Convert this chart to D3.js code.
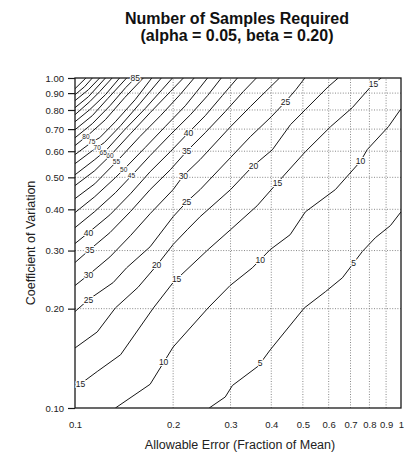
<!DOCTYPE html>
<html>
<head>
  <meta charset="utf-8">
  <title>Number of Samples Required</title>
  <script src="https://d3js.org/d3.v7.min.js"></script>
  <style>
    body { margin: 0; background: #fff; }
    text { font-family: "Liberation Sans", Arial, sans-serif; }
  </style>
</head>
<body>

  <svg width="404" height="452" id="chart"></svg>

  <script>

    // tick values on both log axes
    var xTicks = [0.1, 0.2, 0.3, 0.4, 0.5, 0.6, 0.7, 0.8, 0.9, 1];
    var yTicks = [0.1, 0.2, 0.3, 0.4, 0.5, 0.6, 0.7, 0.8, 0.9, 1.0];

    // contour lines, [allowable error, coefficient of variation]
    var n5 = [[0.258,0.100],[0.289,0.108],[0.304,0.117],[0.365,0.134],[0.397,0.150],[0.505,0.201],[0.586,0.225],[0.661,0.248],[0.761,0.298],[0.834,0.328],[0.928,0.357],[1.0,0.393]];
    var n10 = [[0.133,0.100],[0.170,0.118],[0.200,0.153],[0.256,0.201],[0.299,0.235],[0.350,0.266],[0.397,0.302],[0.457,0.335],[0.509,0.393],[0.629,0.459],[0.750,0.558],[0.788,0.607],[0.915,0.712],[1.0,0.807]];
    var n15 = [[0.100,0.115],[0.117,0.129],[0.138,0.145],[0.174,0.201],[0.200,0.240],[0.256,0.302],[0.300,0.347],[0.362,0.410],[0.418,0.482],[0.509,0.598],[0.608,0.712],[0.709,0.813],[0.823,0.961],[0.870,1.0]];
    var n20 = [[0.100,0.152],[0.117,0.170],[0.133,0.201],[0.156,0.232],[0.179,0.272],[0.200,0.313],[0.221,0.347],[0.242,0.380],[0.300,0.459],[0.350,0.539],[0.403,0.606],[0.458,0.722],[0.509,0.802],[0.598,0.941],[0.642,1.0]];
    var n25 = [[0.100,0.196],[0.110,0.213],[0.131,0.240],[0.144,0.266],[0.170,0.308],[0.200,0.380],[0.221,0.423],[0.242,0.459],[0.300,0.574],[0.345,0.664],[0.400,0.763],[0.442,0.847],[0.476,0.922],[0.507,1.0]];
    var n30 = [[0.100,0.235],[0.111,0.255],[0.128,0.287],[0.148,0.333],[0.170,0.388],[0.200,0.459],[0.215,0.506],[0.242,0.566],[0.300,0.712],[0.345,0.819],[0.384,0.909],[0.424,1.0]];
    var n35 = [[0.100,0.276],[0.111,0.302],[0.128,0.340],[0.148,0.394],[0.170,0.459],[0.196,0.527],[0.221,0.602],[0.251,0.683],[0.289,0.791],[0.328,0.909],[0.360,1.0]];
    var n40 = [[0.100,0.315],[0.110,0.340],[0.128,0.385],[0.148,0.446],[0.170,0.520],[0.196,0.598],[0.223,0.683],[0.251,0.769],[0.283,0.884],[0.315,1.0]];
    var n45 = [[0.100,0.352],[0.115,0.394],[0.133,0.449],[0.148,0.502],[0.170,0.582],[0.196,0.673],[0.226,0.774],[0.255,0.884],[0.281,1.0]];
    var n50 = [[0.100,0.391],[0.115,0.437],[0.133,0.499],[0.144,0.539],[0.164,0.615],[0.189,0.712],[0.218,0.824],[0.235,0.903],[0.255,1.0]];
    var n55 = [[0.100,0.431],[0.115,0.478],[0.136,0.566],[0.158,0.664],[0.183,0.769],[0.210,0.890],[0.232,1.0]];
    var n60 = [[0.100,0.472],[0.115,0.524],[0.130,0.590],[0.148,0.678],[0.170,0.785],[0.196,0.909],[0.215,1.0]];
    var n65 = [[0.100,0.509],[0.115,0.566],[0.125,0.606],[0.142,0.697],[0.164,0.807],[0.185,0.922],[0.199,1.0]];
    var n70 = [[0.100,0.550],[0.113,0.602],[0.123,0.637],[0.138,0.717],[0.158,0.836],[0.184,1.0]];
    var n75 = [[0.100,0.586],[0.113,0.641],[0.119,0.659],[0.133,0.737],[0.153,0.860],[0.172,1.0]];
    var n80 = [[0.100,0.624],[0.111,0.678],[0.124,0.748],[0.142,0.872],[0.162,1.0]];
    var n85 = [[0.100,0.659],[0.113,0.727],[0.128,0.824],[0.143,0.935],[0.153,1.0]];
    var n90 = [[0.100,0.697],[0.113,0.769],[0.126,0.866],[0.144,1.0]];
    var n95 = [[0.100,0.737],[0.111,0.802],[0.124,0.890],[0.137,1.0]];
    var n100 = [[0.100,0.774],[0.111,0.848],[0.119,0.909],[0.130,1.0]];
    var n105 = [[0.100,0.813],[0.110,0.878],[0.124,1.0]];
    var n110 = [[0.100,0.854],[0.110,0.922],[0.119,1.0]];
    var n115 = [[0.100,0.890],[0.107,0.941],[0.113,1.0]];
    var n120 = [[0.100,0.928],[0.108,1.0]];

    var levels = [5, 10, 15, 20, 25, 30, 35, 40, 45, 50, 55, 60, 65, 70, 75, 80, 85, 90, 95, 100, 105, 110, 115, 120];
    var contours = [n5, n10, n15, n20, n25, n30, n35, n40, n45, n50, n55, n60, n65, n70, n75, n80, n85, n90, n95, n100, n105, n110, n115, n120];

    // where the numbers sit: which contour, and at what allowable error
    var labelLevel = [5, 5, 10, 10, 10, 15, 15, 15, 15, 20, 20, 25, 25, 25, 30, 30, 35, 35, 40, 40, 45, 50, 55, 60, 65, 70, 75, 80, 85];
    var labelE = [0.370, 0.715, 0.187, 0.370, 0.751, 0.104, 0.205, 0.418, 0.823, 0.178, 0.353, 0.110, 0.220, 0.442, 0.110, 0.215, 0.111, 0.220, 0.110, 0.223, 0.149, 0.141, 0.134, 0.128, 0.122, 0.117, 0.1125, 0.108, 0.153];

    var svg = d3.select("#chart");

    var x = d3.scaleLog().domain([0.1, 1]).range([75, 401]);
    var y = d3.scaleLog().domain([0.1, 1]).range([408, 78]);

    svg.append("defs").append("clipPath").attr("id", "plot")
      .append("rect")
        .attr("x", x(0.1)).attr("y", y(1))
        .attr("width", x(1) - x(0.1)).attr("height", y(0.1) - y(1));

    // dotted grid
    var grid = svg.append("g")
        .attr("stroke", "#7a7a7a")
        .attr("stroke-width", 0.9)
        .attr("stroke-dasharray", "1,1.6");
    grid.selectAll(".vg")
        .data(xTicks.slice(1, -1))
      .enter().append("line")
        .attr("x1", function(d) { return x(d); })
        .attr("x2", function(d) { return x(d); })
        .attr("y1", y(0.1))
        .attr("y2", y(1));
    grid.selectAll(".hg")
        .data(yTicks.slice(1, -1))
      .enter().append("line")
        .attr("x1", x(0.1))
        .attr("x2", x(1))
        .attr("y1", function(d) { return y(d); })
        .attr("y2", function(d) { return y(d); });

    // contour lines
    var line = d3.line()
        .x(function(d) { return x(d[0]); })
        .y(function(d) { return y(d[1]); });

    svg.append("g")
        .attr("clip-path", "url(#plot)")
      .selectAll("path")
        .data(contours)
      .enter().append("path")
        .attr("d", line)
        .attr("fill", "none")
        .attr("stroke", "#161616")
        .attr("stroke-width", 1);

    // frame
    svg.append("rect")
        .attr("x", x(0.1)).attr("y", y(1))
        .attr("width", x(1) - x(0.1)).attr("height", y(0.1) - y(1))
        .attr("fill", "none")
        .attr("stroke", "#1a1a1a")
        .attr("stroke-width", 1.3);

    // axes
    var yAxis = svg.append("g")
        .attr("transform", "translate(" + x(0.1) + ",0)")
        .call(d3.axisLeft(y).tickValues(yTicks).tickFormat(d3.format(".2f")).tickSize(7).tickPadding(4));
    var xAxis = svg.append("g")
        .attr("transform", "translate(0," + y(0.1) + ")")
        .call(d3.axisBottom(x).tickValues(xTicks)
          .tickFormat(function(d) { return d === 1 ? "1" : d3.format(".1f")(d); })
          .tickSize(0).tickPadding(13));
    [yAxis, xAxis].forEach(function(a) {
      a.select(".domain").remove();
      a.selectAll("line").attr("stroke", "#1a1a1a").attr("stroke-width", 1.2);
      a.selectAll("text").attr("font-size", 9.5).attr("fill", "#222")
        .style("font-family", "'Liberation Sans', Arial, sans-serif");
    });

    // contour labels, placed on their own line
    function cvAt(pts, e) {
      for (var i = 1; i < pts.length; i++) {
        var a = pts[i - 1], b = pts[i];
        if (e <= b[0] || i === pts.length - 1) {
          var t = (Math.log(e) - Math.log(a[0])) / (Math.log(b[0]) - Math.log(a[0]));
          t = Math.max(0, Math.min(1, t));
          return Math.exp(Math.log(a[1]) + t * (Math.log(b[1]) - Math.log(a[1])));
        }
      }
    }

    svg.append("g")
      .selectAll("text")
        .data(labelLevel)
      .enter().append("text")
        .attr("x", function(d, i) { return x(labelE[i]); })
        .attr("y", function(d, i) { return y(cvAt(contours[levels.indexOf(d)], labelE[i])); })
        .attr("dy", "0.35em")
        .attr("text-anchor", "middle")
        // the crowded run 45..80 is printed smaller
        .attr("font-size", function(d, i) { return (d >= 45 && d <= 80) ? 6.5 : 8.5; })
        .attr("fill", "#1a1a1a")
        .attr("stroke", "#fff")
        .attr("stroke-width", 2.2)
        .attr("paint-order", "stroke")
        .text(function(d) { return d; });

    // titles
    svg.append("text")
        .attr("x", 237).attr("y", 24)
        .attr("text-anchor", "middle")
        .attr("font-size", 16).attr("font-weight", "bold")
        .attr("fill", "#111")
        .text("Number of Samples Required");
    svg.append("text")
        .attr("x", 237).attr("y", 41)
        .attr("text-anchor", "middle")
        .attr("font-size", 16).attr("font-weight", "bold")
        .attr("fill", "#111")
        .text("(alpha = 0.05, beta = 0.20)");

    svg.append("text")
        .attr("x", 240).attr("y", 449)
        .attr("text-anchor", "middle")
        .attr("font-size", 12.5)
        .attr("fill", "#222")
        .text("Allowable Error (Fraction of Mean)");

    svg.append("text")
        .attr("transform", "translate(35,243) rotate(-90)")
        .attr("text-anchor", "middle")
        .attr("font-size", 12.5)
        .attr("fill", "#222")
        .text("Coefficient of Variation");

  </script>
</body>
</html>
